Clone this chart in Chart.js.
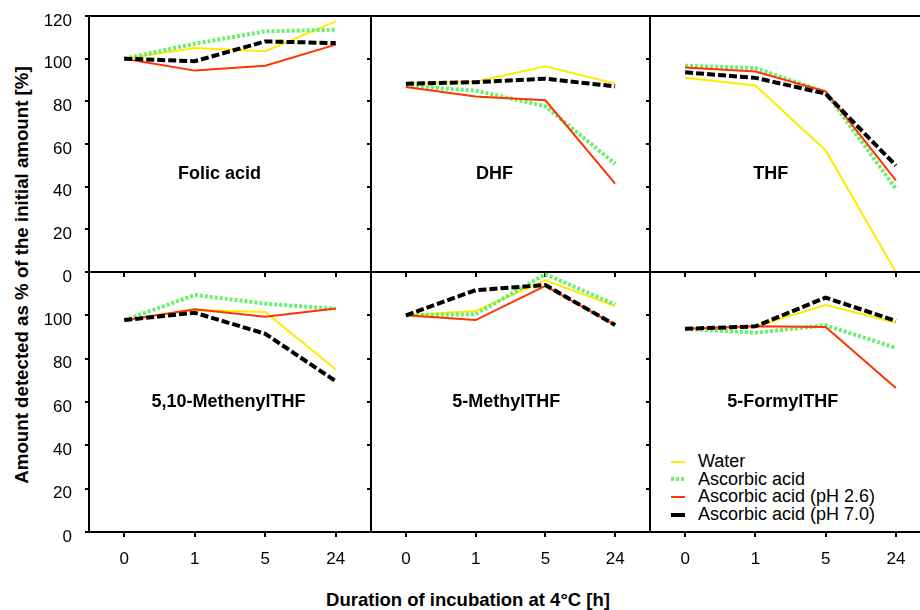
<!DOCTYPE html>
<html lang="en">
<head>
    <meta charset="UTF-8">
    <title>Folate stability during incubation at 4°C</title>
    <script src="https://cdn.jsdelivr.net/npm/chart.js"></script>
    <style>
        body {
            margin: 0;
            width: 920px;
            height: 610px;
            overflow: hidden;
            position: relative;
            background: #fff;
            font-family: 'Liberation Sans', Arial, sans-serif;
            color: #000;
        }

        canvas {
            position: absolute;
        }

        #yTitle {
            position: absolute;
            left: 22px;
            top: 275px;
            transform: translate(-50%, -50%) rotate(-90deg);
            white-space: nowrap;
            font-weight: bold;
            font-size: 18.7px;
        }

        #xTitle {
            position: absolute;
            left: 468px;
            top: 600px;
            transform: translate(-50%, -50%);
            white-space: nowrap;
            font-weight: bold;
            font-size: 18.5px;
        }

        #legend {
            position: absolute;
            left: 671px;
            top: 453px;
            font-size: 18px;
            line-height: 17.6px;
        }

        #legend .row {
            display: flex;
            align-items: center;
            white-space: nowrap;
        }

        #legend .sym {
            width: 14px;
            margin-right: 13px;
        }
    </style>
</head>
<body>
    <div id="yTitle">Amount detected as % of the initial amount [%]</div>
    <div id="xTitle">Duration of incubation at 4°C [h]</div>
    <div id="legend"></div>

    <script>
        // incubation times (category ticks)
        const hours = ['0', '1', '5', '24'];

        const panelNames = ['Folic acid', 'DHF', 'THF', '5,10-MethenylTHF', '5-MethylTHF', '5-FormylTHF'];
        const seriesNames = ['Water', 'Ascorbic acid', 'Ascorbic acid (pH 2.6)', 'Ascorbic acid (pH 7.0)'];

        // % of initial amount, one row per panel (same order as panelNames)
        const water = [
            [100, 105, 103.5, 117.5],
            [88.3, 89.2, 96.4, 88.3],
            [91, 87.4, 57, 0],
            [97.7, 102.5, 101.5, 75],
            [100, 102, 116.2, 104.3],
            [93.8, 94.9, 104.8, 96.6]
        ];
        const ascorbic = [
            [100, 107, 112.8, 113.6],
            [87.3, 85, 77.7, 50.7],
            [96.7, 95.6, 84.2, 39],
            [97.7, 109.4, 105.4, 103],
            [100, 100.5, 119, 105],
            [93.8, 92, 95.4, 85]
        ];
        const ascorbicPH26 = [
            [100, 94.4, 96.7, 106.6],
            [86.7, 82.3, 80.5, 41.4],
            [95.9, 94, 84.7, 43],
            [97.7, 102.8, 99.4, 103.2],
            [100, 97.8, 113.6, 95.5],
            [93.8, 95, 94.6, 66.5]
        ];
        const ascorbicPH70 = [
            [100, 98.8, 108.1, 107.3],
            [88.3, 89, 90.6, 87],
            [93.6, 91, 83.6, 49.9],
            [97.8, 101.2, 91.5, 69.6],
            [100, 111.6, 114, 95.5],
            [93.8, 94.9, 108.2, 97.4]
        ];

        const yMax = 120;
        const yStep = 20;

        const allSeries = [water, ascorbic, ascorbicPH26, ascorbicPH70];
        const seriesStyle = [
            { color: '#ffea00', width: 2, dash: [] },
            { color: '#6cef6c', width: 4, dash: [3, 2] },
            { color: '#ff3300', width: 2, dash: [] },
            { color: '#000000', width: 4, dash: [8, 3] }
        ];

        // layout of the 2x3 grid (pixels) and where each panel name sits (x index, y value)
        const colEdges = [89, 371, 650, 931];
        const rowEdges = [16, 272, 532];
        const nameAt = [[1.35, 46], [1.27, 46], [1.22, 46], [1.48, 60], [1.44, 60], [1.39, 60]];

        const fontFamily = "'Liberation Sans', Arial, sans-serif";

        const panelFrame = {
            id: 'panelFrame',
            afterDatasetsDraw(chart, args, opts) {
                const { ctx, chartArea: a, scales } = chart;
                ctx.save();
                ctx.strokeStyle = '#000';
                ctx.lineWidth = 2;
                ctx.strokeRect(a.left, a.top, a.right - a.left, a.bottom - a.top);
                ctx.fillStyle = '#000';
                ctx.font = 'bold 18px ' + fontFamily;
                ctx.textAlign = 'center';
                ctx.textBaseline = 'middle';
                ctx.fillText(opts.name, scales.x.getPixelForValue(opts.at[0]), scales.y.getPixelForValue(opts.at[1]));
                ctx.restore();
            }
        };

        panelNames.forEach((name, p) => {
            const c = p % 3;
            const r = Math.floor(p / 3);
            const left = colEdges[c], right = colEdges[c + 1];
            const top = rowEdges[r], bottom = rowEdges[r + 1];

            const canvasLeft = c === 0 ? 0 : left - 10;
            const canvasTop = top - 4;
            const canvasRight = right + 4;
            const canvasBottom = r === 0 ? bottom + 10 : 610;

            const cv = document.createElement('canvas');
            cv.width = canvasRight - canvasLeft;
            cv.height = canvasBottom - canvasTop;
            cv.style.left = canvasLeft + 'px';
            cv.style.top = canvasTop + 'px';
            document.body.appendChild(cv);

            const yWidth = left - canvasLeft;
            const xHeight = canvasBottom - bottom;

            new Chart(cv, {
                type: 'line',
                data: {
                    labels: hours,
                    datasets: allSeries.map((s, i) => ({
                        label: seriesNames[i],
                        data: s[p],
                        borderColor: seriesStyle[i].color,
                        borderWidth: seriesStyle[i].width,
                        borderDash: seriesStyle[i].dash,
                        pointRadius: 0,
                        tension: 0,
                        fill: false,
                        order: 3 - i
                    }))
                },
                options: {
                    responsive: false,
                    animation: false,
                    devicePixelRatio: 1,
                    layout: { padding: { top: 4, right: 4, left: 0, bottom: 0 } },
                    plugins: {
                        legend: { display: false },
                        tooltip: { enabled: false },
                        panelFrame: { name: name, at: nameAt[p] }
                    },
                    scales: {
                        x: {
                            offset: true,
                            border: { display: false },
                            grid: { drawOnChartArea: false, drawTicks: true, tickLength: 5, color: '#000', lineWidth: 2 },
                            ticks: {
                                display: r === 1,
                                color: '#000',
                                font: { size: 17, family: fontFamily },
                                padding: 12,
                                maxRotation: 0,
                                autoSkip: false
                            },
                            afterFit: s => {
                                s.height = xHeight;
                                s.paddingLeft = 0;
                                s.paddingRight = 0;
                            }
                        },
                        y: {
                            min: 0,
                            max: yMax,
                            border: { display: false },
                            grid: { drawOnChartArea: false, drawTicks: true, tickLength: 4, color: '#000', lineWidth: 2 },
                            ticks: {
                                stepSize: yStep,
                                display: c === 0,
                                color: '#000',
                                font: { size: 17, family: fontFamily },
                                padding: 13,
                                labelOffset: 5,
                                callback: v => (r === 1 && v === yMax) ? '' : v
                            },
                            afterFit: s => {
                                s.width = yWidth;
                                s.paddingTop = 0;
                                s.paddingBottom = 0;
                            }
                        }
                    }
                },
                plugins: [panelFrame]
            });
        });

        // legend in the lower right panel
        const legend = document.getElementById('legend');
        seriesNames.forEach((n, i) => {
            const st = seriesStyle[i];
            const row = document.createElement('div');
            row.className = 'row';
            const sym = document.createElement('div');
            sym.className = 'sym';
            sym.style.height = st.width + 'px';
            sym.style.background = (st.dash.length && i !== 3)
                ? `repeating-linear-gradient(90deg, ${st.color} 0 ${st.dash[0]}px, transparent ${st.dash[0]}px ${st.dash[0] + st.dash[1]}px)`
                : st.color;
            const txt = document.createElement('span');
            txt.textContent = n;
            row.appendChild(sym);
            row.appendChild(txt);
            legend.appendChild(row);
        });
    </script>
</body>
</html>
